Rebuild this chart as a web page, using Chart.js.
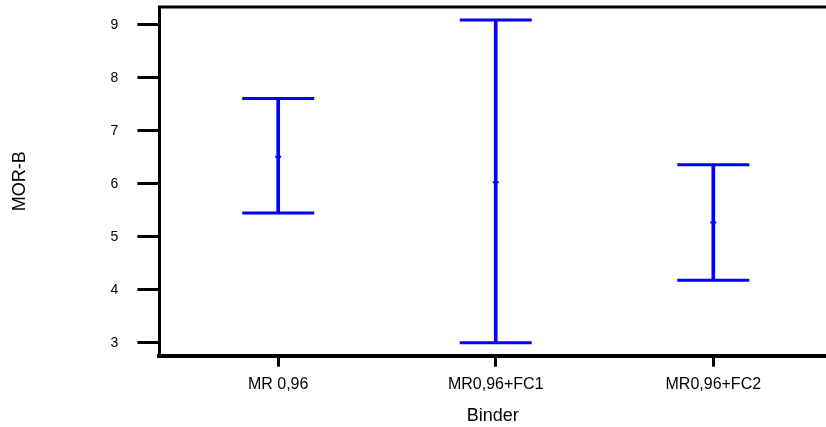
<!DOCTYPE html>
<html>
<head>
<meta charset="utf-8">
<script src="https://cdn.jsdelivr.net/npm/chart.js@4.4.1/dist/chart.umd.min.js"></script>
<style>
html,body{margin:0;padding:0;background:#fff;}
#wrap{width:826px;height:427px;}
</style>
</head>
<body>
<div id="wrap"><canvas id="myChart"></canvas></div>
<script>
// binder groups along the x axis
var binders=["MR 0,96","MR0,96+FC1","MR0,96+FC2"];
// MOR-B mean and interval ends for each binder
var means=[6.51,6.03,5.27];
var lower=[5.45,3.00,4.18];
var upper=[7.61,9.09,6.36];
var yTicks=[3,4,5,6,7,8,9];

var BLUE="#0000ff";
var FONT="'Liberation Sans', Arial, sans-serif";

// top edge of the plot frame
var frameTop={
	id:"frameTop",
	afterDraw:function(chart){
		var a=chart.chartArea, ctx=chart.ctx;
		ctx.save();
		ctx.strokeStyle="#000";
		ctx.lineWidth=3;
		ctx.beginPath();
		ctx.moveTo(a.left-1.5,a.top);
		ctx.lineTo(a.right,a.top);
		ctx.stroke();
		ctx.restore();
	}
};

function pts(arr){
	return arr.map(function(v,i){ return {x:i+1,y:v}; });
}

var ctx=document.getElementById('myChart').getContext('2d');
var chart=new Chart(ctx,{
	type:'bar',
	data:{
		datasets:[{
			// whisker from lower to upper
			type:'bar',
			data:binders.map(function(b,i){ return {x:i+1,y:[lower[i],upper[i]]}; }),
			backgroundColor:BLUE,
			borderWidth:0,
			barThickness:3
		},{
			type:'line',
			data:pts(upper),
			showLine:false,
			pointStyle:'line',
			pointRadius:36,
			pointBorderWidth:3,
			borderColor:BLUE,
			backgroundColor:BLUE
		},{
			type:'line',
			data:pts(lower),
			showLine:false,
			pointStyle:'line',
			pointRadius:36,
			pointBorderWidth:3,
			borderColor:BLUE,
			backgroundColor:BLUE
		},{
			type:'line',
			data:pts(means),
			showLine:false,
			pointStyle:'line',
			pointRadius:3,
			pointBorderWidth:2,
			borderColor:BLUE,
			backgroundColor:BLUE
		}]
	},
	options:{
		responsive:true,
		maintainAspectRatio:false,
		animation:false,
		layout:{autoPadding:false,padding:{top:7,right:0,bottom:0,left:0}},
		plugins:{legend:{display:false},tooltip:{enabled:false}},
		scales:{
			x:{
				type:'linear',
				min:0.454,
				max:3.518,
				offset:false,
				afterBuildTicks:function(axis){
					axis.ticks=binders.map(function(b,i){ return {value:i+1}; });
				},
				ticks:{
					callback:function(v){ return binders[v-1]; },
					color:'#000',
					font:{family:FONT,size:16},
					padding:8,
					maxRotation:0
				},
				grid:{display:true,drawOnChartArea:false,drawTicks:true,tickLength:11,tickWidth:3,tickColor:'#000',offset:false},
				border:{display:true,color:'#000',width:4},
				title:{display:true,text:'Binder',color:'#000',font:{family:FONT,size:18},padding:{top:3.5,bottom:0}}
			},
			y:{
				type:'linear',
				min:2.758,
				max:9.335,
				afterBuildTicks:function(axis){
					axis.ticks=yTicks.map(function(v){ return {value:v}; });
				},
				// labels sit well inside the range, so no extra room above
				afterFit:function(axis){
					axis.paddingTop=0;
					axis.paddingBottom=0;
				},
				ticks:{
					color:'#000',
					font:{family:FONT,size:14},
					padding:19
				},
				grid:{display:true,drawOnChartArea:false,drawTicks:true,tickLength:22,tickWidth:3,tickColor:'#000'},
				border:{display:true,color:'#000',width:3},
				title:{display:true,text:'MOR-B',color:'#000',font:{family:FONT,size:18},padding:{top:9,bottom:61}}
			}
		}
	},
	plugins:[frameTop]
});
</script>
</body>
</html>
